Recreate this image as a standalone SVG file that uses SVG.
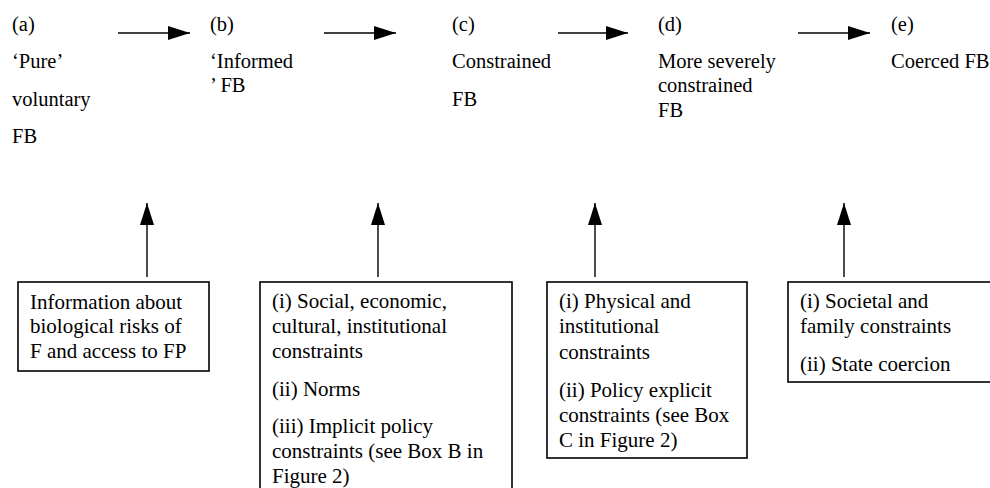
<svg xmlns="http://www.w3.org/2000/svg" width="990" height="488" viewBox="0 0 990 488">
<defs>
<style>
text{font-family:'Liberation Serif','Times New Roman',Times,Tinos,'DejaVu Serif',serif;font-size:20.5px;fill:#000}
.bt{font-size:21px}
.box{fill:#fff;stroke:#000;stroke-width:1.6}
.con{stroke:#000;stroke-width:1.4;fill:none}
</style>
<marker id="ah" markerUnits="userSpaceOnUse" markerWidth="24" markerHeight="16" refX="22" refY="7" orient="auto">
<polygon points="0,0 22,7 0,14" fill="#000"/>
</marker>
</defs>
<g id="connectors">
<line class="con" x1="118" y1="33" x2="190" y2="33" marker-end="url(#ah)"/>
<line class="con" x1="324" y1="33" x2="396" y2="33" marker-end="url(#ah)"/>
<line class="con" x1="558" y1="33" x2="628" y2="33" marker-end="url(#ah)"/>
<line class="con" x1="798" y1="33" x2="870" y2="33" marker-end="url(#ah)"/>
<line class="con" x1="147" y1="277" x2="147" y2="203" marker-end="url(#ah)"/>
<line class="con" x1="378" y1="277" x2="378" y2="203" marker-end="url(#ah)"/>
<line class="con" x1="595" y1="277" x2="595" y2="203" marker-end="url(#ah)"/>
<line class="con" x1="844" y1="277" x2="844" y2="203" marker-end="url(#ah)"/>
</g>
<g id="node-a" font-family="Liberation Serif, serif">
<text x="12" y="31">(a)</text>
<text x="12" y="68">‘Pure’</text>
<text x="12" y="106">voluntary</text>
<text x="12" y="143">FB</text>
</g>
<g id="node-b">
<text x="210" y="31">(b)</text>
<text x="210" y="68">‘Informed</text>
<text x="210" y="92">’ FB</text>
</g>
<g id="node-c">
<text x="452" y="31">(c)</text>
<text x="452" y="68">Constrained</text>
<text x="452" y="106">FB</text>
</g>
<g id="node-d">
<text x="658" y="31">(d)</text>
<text x="658" y="68">More severely</text>
<text x="658" y="92">constrained</text>
<text x="658" y="117">FB</text>
</g>
<g id="node-e">
<text x="891" y="31">(e)</text>
<text x="891" y="68">Coerced FB</text>
</g>
<g id="box-1">
<rect class="box" x="18" y="282" width="191" height="89"/>
<text class="bt" x="30" y="309">Information about</text>
<text class="bt" x="30" y="333">biological risks of</text>
<text class="bt" x="30" y="358">F and access to FP</text>
</g>
<g id="box-2">
<rect class="box" x="260" y="282" width="252" height="215"/>
<text class="bt" x="272" y="308">(i) Social, economic,</text>
<text class="bt" x="272" y="333">cultural, institutional</text>
<text class="bt" x="272" y="358">constraints</text>
<text class="bt" x="272" y="396">(ii) Norms</text>
<text class="bt" x="272" y="433">(iii) Implicit policy</text>
<text class="bt" x="272" y="458">constraints (see Box B in</text>
<text class="bt" x="272" y="483">Figure 2)</text>
</g>
<g id="box-3">
<rect class="box" x="547" y="282" width="200" height="176"/>
<text class="bt" x="559" y="308">(i) Physical and</text>
<text class="bt" x="559" y="333">institutional</text>
<text class="bt" x="559" y="359">constraints</text>
<text class="bt" x="559" y="397">(ii) Policy explicit</text>
<text class="bt" x="559" y="422">constraints (see Box</text>
<text class="bt" x="559" y="447">C in Figure 2)</text>
</g>
<g id="box-4">
<rect class="box" x="788" y="282" width="210" height="100"/>
<text class="bt" x="800" y="308">(i) Societal and</text>
<text class="bt" x="800" y="333">family constraints</text>
<text class="bt" x="800" y="371">(ii) State coercion</text>
</g>
</svg>
